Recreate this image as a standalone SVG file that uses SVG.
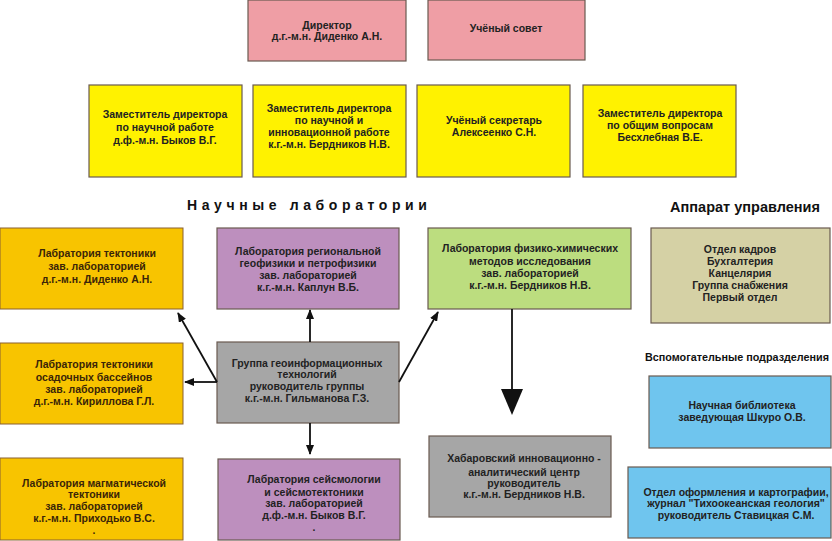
<svg xmlns="http://www.w3.org/2000/svg" width="832" height="541" viewBox="0 0 832 541">
<defs>
<style>
.b{stroke:#6a5a50;stroke-width:1.2}
.pink{fill:#EF9EA5}
.yel{fill:#FFF200}
.org{fill:#F8C400;stroke:#8a6030}
.pur{fill:#BD8FBE}
.grn{fill:#BCDD7F}
.kha{fill:#D5D1A5}
.gry{fill:#A6A6A6}
.blu{fill:#6FC5EE}
text{font-family:"Liberation Sans",Arial,sans-serif;font-weight:bold;font-size:10.5px;fill:#222;text-anchor:middle}
.ot{fill:#3a2508}
.h1{font-size:14px;letter-spacing:4.6px;text-anchor:start;fill:#111}
.h2{font-size:14.5px;fill:#111}
.h3{font-size:11px;fill:#111;text-anchor:start}
.c{stroke:#111;stroke-width:1.8;fill:none}
</style>
<marker id="ah" markerWidth="10" markerHeight="8" refX="9" refY="4" orient="auto" markerUnits="userSpaceOnUse">
<path d="M0,0 L10,4 L0,8 Z" fill="#111"/>
</marker>
</defs>
<rect width="832" height="541" fill="#fff"/>

<g id="director"><rect class="b pink" x="248" y="0" width="158" height="61"/>
<text x="327" y="29">Директор</text><text x="327" y="40">д.г.-м.н. Диденко А.Н.</text></g>
<g id="council"><rect class="b pink" x="428" y="0" width="157" height="60"/>
<text x="506" y="32">Учёный совет</text></g>

<g id="dep1"><rect class="b yel" x="89" y="85" width="153" height="92"/>
<text x="165" y="118">Заместитель директора</text><text x="165" y="131">по научной работе</text><text x="165" y="144">д.ф.-м.н. Быков В.Г.</text></g>
<g id="dep2"><rect class="b yel" x="253" y="85" width="153" height="92"/>
<text x="329" y="112">Заместитель директора</text><text x="329" y="124">по научной и</text><text x="329" y="136">инновационной работе</text><text x="329" y="148">к.г.-м.н. Бердников Н.В.</text></g>
<g id="secretary"><rect class="b yel" x="417" y="85" width="153" height="92"/>
<text x="494" y="124">Учёный секретарь</text><text x="494" y="136">Алексеенко С.Н.</text></g>
<g id="dep3"><rect class="b yel" x="583" y="85" width="153" height="92"/>
<text x="660" y="117">Заместитель директора</text><text x="660" y="129">по общим вопросам</text><text x="660" y="141">Бесхлебная В.Е.</text></g>

<text class="h1" x="187" y="210">Научные лаборатории</text>
<text class="h2" x="745" y="212">Аппарат управления</text>
<text class="h3" x="645" y="361" textLength="184" lengthAdjust="spacingAndGlyphs">Вспомогательные подразделения</text>

<g id="lab1"><rect class="org" x="0" y="228" width="183" height="81"/>
<text class="ot" x="97" y="257">Лабратория тектоники</text><text class="ot" x="97" y="270">зав. лабораторией</text><text class="ot" x="97" y="283">д.г.-м.н. Диденко А.Н.</text></g>
<g id="lab2"><rect class="b pur" x="217" y="228" width="182" height="81"/>
<text x="308" y="255">Лаборатория региональной</text><text x="308" y="267">геофизики и петрофизики</text><text x="308" y="279">зав. лабораторией</text><text x="308" y="291">к.г.-м.н. Каплун В.Б.</text></g>
<g id="lab3"><rect class="b grn" x="428" y="228" width="203" height="81"/>
<text x="530" y="252">Лаборатория физико-химических</text><text x="530" y="265">методов исследования</text><text x="530" y="277">зав. лабораторией</text><text x="530" y="289">к.г.-м.н. Бердников Н.В.</text></g>
<g id="admin"><rect class="b kha" x="651" y="228" width="179" height="95"/>
<text x="740" y="253">Отдел кадров</text><text x="740" y="265">Бухгалтерия</text><text x="740" y="277">Канцелярия</text><text x="740" y="289">Группа снабжения</text><text x="740" y="301">Первый отдел</text></g>

<g id="lab4"><rect class="org" x="0" y="343" width="183" height="81"/>
<text class="ot" x="94" y="368">Лабратория тектоники</text><text class="ot" x="94" y="381">осадочных бассейнов</text><text class="ot" x="94" y="393">зав. лабораторией</text><text class="ot" x="94" y="405">д.г.-м.н. Кириллова Г.Л.</text></g>
<g id="gis"><rect class="b gry" x="217" y="342" width="182" height="81"/>
<text x="307" y="367">Группа геоинформационных</text><text x="307" y="378">технологий</text><text x="307" y="390">руководитель группы</text><text x="307" y="402">к.г.-м.н. Гильманова Г.З.</text></g>

<g id="lab5"><rect class="org" x="0" y="458" width="183" height="82"/>
<text class="ot" x="94" y="487">Лабратория магматической</text><text class="ot" x="94" y="498">тектоники</text><text class="ot" x="94" y="510">зав. лабораторией</text><text class="ot" x="94" y="522">к.г.-м.н. Приходько В.С.</text><text class="ot" x="94" y="534">.</text></g>
<g id="lab6"><rect class="b pur" x="218" y="459" width="182" height="81"/>
<text x="314" y="483">Лабратория сейсмологии</text><text x="314" y="496">и сейсмотектоники</text><text x="314" y="507">зав. лабораторией</text><text x="314" y="519">д.ф.-м.н. Быков В.Г.</text><text x="314" y="531">.</text></g>

<g id="khab"><rect class="b gry" x="429" y="436" width="182" height="81"/>
<text x="524" y="462">Хабаровский инновационно -</text><text x="524" y="476">аналитический  центр</text><text x="524" y="487">руководитель</text><text x="524" y="498">к.г.-м.н. Бердников Н.В.</text></g>
<g id="library"><rect class="b blu" x="649" y="376" width="182" height="72"/>
<text x="742" y="409">Научная библиотека</text><text x="742" y="421">заведующая Шкуро О.В.</text></g>
<g id="cartography"><rect class="b blu" x="628" y="467" width="203" height="71"/>
<text x="736" y="496">Отдел оформления и картографии,</text><text x="736" y="507">журнал "Тихоокеанская геология"</text><text x="736" y="519">руководитель Ставицкая С.М.</text></g>

<g id="connectors">
<line class="c" x1="310" y1="342" x2="310" y2="310" marker-end="url(#ah)"/>
<line class="c" x1="217" y1="382" x2="178" y2="313" marker-end="url(#ah)"/>
<line class="c" x1="217" y1="382" x2="185" y2="382" marker-end="url(#ah)"/>
<line class="c" x1="399" y1="382" x2="438" y2="312" marker-end="url(#ah)"/>
<line class="c" x1="310" y1="423" x2="310" y2="454" marker-end="url(#ah)"/>
<line class="c" x1="512" y1="309" x2="512" y2="392"/>
<path d="M501,389 L523,389 L512,415 Z" fill="#111"/>
</g>
</svg>
